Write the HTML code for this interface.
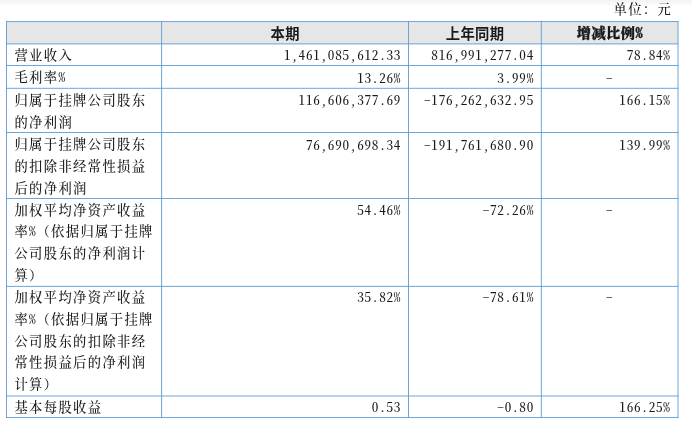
<!DOCTYPE html>
<html lang="zh-CN"><head><meta charset="utf-8"><title>主要会计数据</title>
<style>
html,body{margin:0;padding:0;background:#fff;}
body{width:692px;height:423px;position:relative;overflow:hidden;
 font-family:"Noto Serif CJK SC","Liberation Serif",serif;font-size:14.67px;color:#1a1a1a;
}
.top{position:absolute;left:0;top:0;width:692px;height:7px;background:linear-gradient(#f2f2f2,#f9f9f9 45%,#fff);}
.hd{position:absolute;background:#e6e6e6;}
.gr{position:absolute;left:0;top:0;}
.gr line{stroke:#5b9bd5;stroke-width:0.9;}
.t{position:absolute;white-space:nowrap;line-height:22.0px;height:22.0px;}
.r{text-align:right;}
.c{text-align:center;}
.k{font-size:13.3px;letter-spacing:1.37px;font-weight:500;}
.w{font-feature-settings:"hwid";}
.q{margin-left:-0.68px;font-feature-settings:normal;}
.n{font-weight:500;font-size:13.2px;letter-spacing:0.735px;font-feature-settings:"hwid";}
.b{font-family:"Noto Sans CJK SC","Liberation Sans",sans-serif;font-weight:700;font-size:14.3px;letter-spacing:0.37px;}
.s{-webkit-text-stroke:0.3px #111;font-feature-settings:"hwid";font-weight:900;font-size:14.2px;letter-spacing:0.47px;}
</style></head>
<body>
<div class="top"></div>
<div class="hd" style="left:6.5px;top:21.55px;width:671.5px;height:22.35px"></div>
<svg class="gr" width="692" height="423" viewBox="0 0 692 423"><line x1="6.05" x2="678.45" y1="21.55" y2="21.55"/><line x1="6.05" x2="678.45" y1="43.90" y2="43.90"/><line x1="6.05" x2="678.45" y1="65.50" y2="65.50"/><line x1="6.05" x2="678.45" y1="88.30" y2="88.30"/><line x1="6.05" x2="678.45" y1="132.50" y2="132.50"/><line x1="6.05" x2="678.45" y1="198.50" y2="198.50"/><line x1="6.05" x2="678.45" y1="286.40" y2="286.40"/><line x1="6.05" x2="678.45" y1="396.00" y2="396.00"/><line x1="6.05" x2="678.45" y1="417.55" y2="417.55"/><line y1="21.10" y2="418.00" x1="6.50" x2="6.50"/><line y1="21.10" y2="418.00" x1="161.60" x2="161.60"/><line y1="21.10" y2="418.00" x1="408.50" x2="408.50"/><line y1="21.10" y2="418.00" x1="541.30" x2="541.30"/><line y1="21.10" y2="418.00" x1="678.00" x2="678.00"/></svg>
<div class="t k r" style="left:6.5px;width:665.67px;top:-1.55px">单位：元</div>
<div class="t b c" style="left:161.78px;width:246.90px;top:21.55px">本期</div>
<div class="t b c" style="left:408.69px;width:132.80px;top:21.55px">上年同期</div>
<div class="t s c" style="left:541.53px;width:136.70px;top:21.15px">增减比例%</div>
<div class="t k" style="left:14.38px;top:44.20px">营业收入</div>
<div class="t n r" style="left:161.6px;width:239.57px;top:43.80px">1,461,085,612.33</div>
<div class="t n r" style="left:408.5px;width:125.47px;top:43.80px">816,991,277.04</div>
<div class="t n r" style="left:541.3px;width:129.37px;top:43.80px">78.84%</div>
<div class="t k w" style="left:14.38px;top:65.80px">毛利率%</div>
<div class="t n r" style="left:161.6px;width:239.57px;top:66.90px">13.26%</div>
<div class="t n r" style="left:408.5px;width:125.47px;top:66.90px">3.99%</div>
<div class="t n c" style="left:541.3px;width:136.70px;top:66.90px">-</div>
<div class="t k" style="left:14.38px;top:88.60px">归属于挂牌公司股东</div>
<div class="t k" style="left:14.38px;top:110.60px">的净利润</div>
<div class="t n r" style="left:161.6px;width:239.57px;top:89.10px">116,606,377.69</div>
<div class="t n r" style="left:408.5px;width:125.47px;top:89.10px">-176,262,632.95</div>
<div class="t n r" style="left:541.3px;width:129.37px;top:89.10px">166.15%</div>
<div class="t k" style="left:14.38px;top:132.80px">归属于挂牌公司股东</div>
<div class="t k" style="left:14.38px;top:154.70px">的扣除非经常性损益</div>
<div class="t k" style="left:14.38px;top:176.60px">后的净利润</div>
<div class="t n r" style="left:161.6px;width:239.57px;top:133.60px">76,690,698.34</div>
<div class="t n r" style="left:408.5px;width:125.47px;top:133.60px">-191,761,680.90</div>
<div class="t n r" style="left:541.3px;width:129.37px;top:133.60px">139.99%</div>
<div class="t k" style="left:14.38px;top:198.80px">加权平均净资产收益</div>
<div class="t k w" style="left:14.38px;top:220.45px">率%<span class="q">（依据归属于挂牌</span></div>
<div class="t k" style="left:14.38px;top:242.10px">公司股东的净利润计</div>
<div class="t k" style="left:14.38px;top:263.75px">算）</div>
<div class="t n r" style="left:161.6px;width:239.57px;top:198.90px">54.46%</div>
<div class="t n r" style="left:408.5px;width:125.47px;top:198.90px">-72.26%</div>
<div class="t n c" style="left:541.3px;width:136.70px;top:198.90px">-</div>
<div class="t k" style="left:14.38px;top:286.30px">加权平均净资产收益</div>
<div class="t k w" style="left:14.38px;top:308.03px">率%<span class="q">（依据归属于挂牌</span></div>
<div class="t k" style="left:14.38px;top:329.76px">公司股东的扣除非经</div>
<div class="t k" style="left:14.38px;top:351.49px">常性损益后的净利润</div>
<div class="t k" style="left:14.38px;top:373.22px">计算）</div>
<div class="t n r" style="left:161.6px;width:239.57px;top:286.40px">35.82%</div>
<div class="t n r" style="left:408.5px;width:125.47px;top:286.40px">-78.61%</div>
<div class="t n c" style="left:541.3px;width:136.70px;top:286.40px">-</div>
<div class="t k" style="left:14.38px;top:396.00px">基本每股收益</div>
<div class="t n r" style="left:161.6px;width:239.57px;top:395.50px">0.53</div>
<div class="t n r" style="left:408.5px;width:125.47px;top:395.50px">-0.80</div>
<div class="t n r" style="left:541.3px;width:129.37px;top:395.50px">166.25%</div>
</body></html>
